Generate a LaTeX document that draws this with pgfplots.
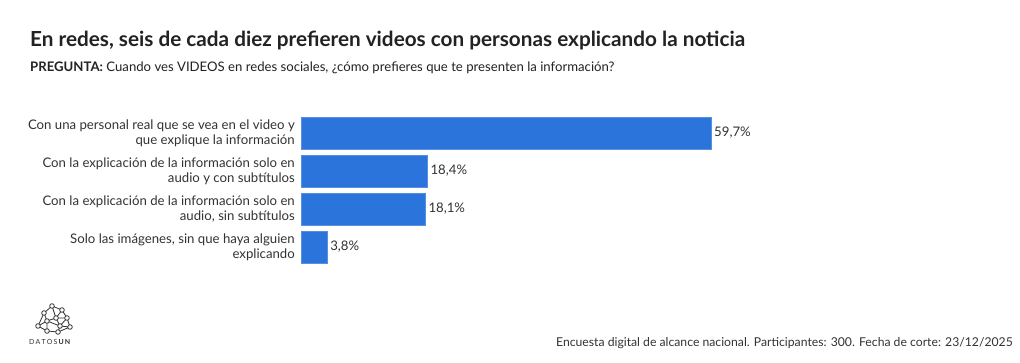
\documentclass[border=0pt]{standalone}
\usepackage{fontspec}
\setmainfont{Lato}
\usepackage{pgfplots}
\pgfplotsset{compat=1.18}
\definecolor{barblue}{HTML}{2A74DB}
\definecolor{txt}{HTML}{333333}
\definecolor{ttl}{HTML}{222222}
\begin{document}
\begin{tikzpicture}
\path[use as bounding box, fill=white] (0,0) rectangle (1020bp,-363bp);
% title
\node[anchor=base west, inner sep=0, text=ttl, font=\fontsize{20.8}{24}\selectfont\bfseries] at (30bp,-46bp) {En redes, seis de cada diez prefieren videos con personas explicando la noticia};
\node[anchor=base west, inner sep=0, text=ttl, font=\fontsize{13.2}{15}\selectfont] at (30bp,-71bp) {\textbf{PREGUNTA:} Cuando ves VIDEOS en redes sociales, ¿cómo prefieres que te presenten la información?};
% footer
\node[anchor=base east, inner sep=0, text=txt, font=\fontsize{12.25}{14}\selectfont] at (1013bp,-346bp) {Encuesta digital de alcance nacional. Participantes: 300. Fecha de corte: 23/12/2025};
% logo
\begin{scope}[draw=txt, line width=0.8bp]
\coordinate (a) at (52bp,-306bp);
\coordinate (b) at (62bp,-310bp);
\coordinate (c) at (44bp,-313bp);
\coordinate (d) at (56bp,-318bp);
\coordinate (e) at (67bp,-318bp);
\coordinate (f) at (47bp,-321bp);
\coordinate (g) at (38bp,-326bp);
\coordinate (h) at (60bp,-326bp);
\coordinate (i) at (70bp,-327bp);
\coordinate (j) at (47bp,-331bp);
\coordinate (k) at (58bp,-332bp);
\draw (a)--(b)--(e)--(i)--(h)--(k)--(j)--(g)--(c)--(a)--(d)--(h) (c)--(f)--(d)--(b) (f)--(j) (f)--(h) (g)--(f) (e)--(h) (d)--(e) (k)--(i);
\foreach \p in {a,b,c,d,e,f,g,h,i,j,k} \draw[fill=white] (\p) circle (2.3bp);
\end{scope}
\node[anchor=base west, inner sep=0, text=txt, font=\fontsize{7}{8}\selectfont] at (29bp,-344bp) {D\,A\,T\,O\,S\,\textbf{U\,N}};
% chart
\begin{axis}[
  at={(301bp,-266bp)}, anchor=south west,
  scale only axis, width=686.8bp, height=152bp,
  xmin=0, xmax=100, ymin=-0.5, ymax=3.5, y dir=reverse,
  xbar, bar width=32bp,
  /pgf/number format/assume math mode=true,
  axis line style={draw=none}, major tick length=0,
  xtick=\empty, ytick={0,1,2,3},
  yticklabels={{Con una personal real que se vea en el video y\\que explique la información},
    {Con la explicación de la información solo en\\audio y con subtítulos},
    {Con la explicación de la información solo en\\audio, sin subtítulos},
    {Solo las imágenes, sin que haya alguien\\explicando}},
  yticklabel style={align=right, text=txt, font=\fontsize{13.25}{15}\selectfont, inner sep=0pt, xshift=-6bp},
  nodes near coords={\pgfmathprintnumber[fixed,fixed zerofill,precision=1,use comma,assume math mode=true]{\pgfplotspointmeta}\%},
  nodes near coords align={horizontal},
  every node near coord/.append style={text=txt, font=\fontsize{13.25}{15}\selectfont, inner sep=0pt, xshift=3bp},
]
\addplot[fill=barblue, draw=barblue!80!white] coordinates {(59.7,0) (18.4,1) (18.1,2) (3.8,3)};
\end{axis}
\end{tikzpicture}
\end{document}
